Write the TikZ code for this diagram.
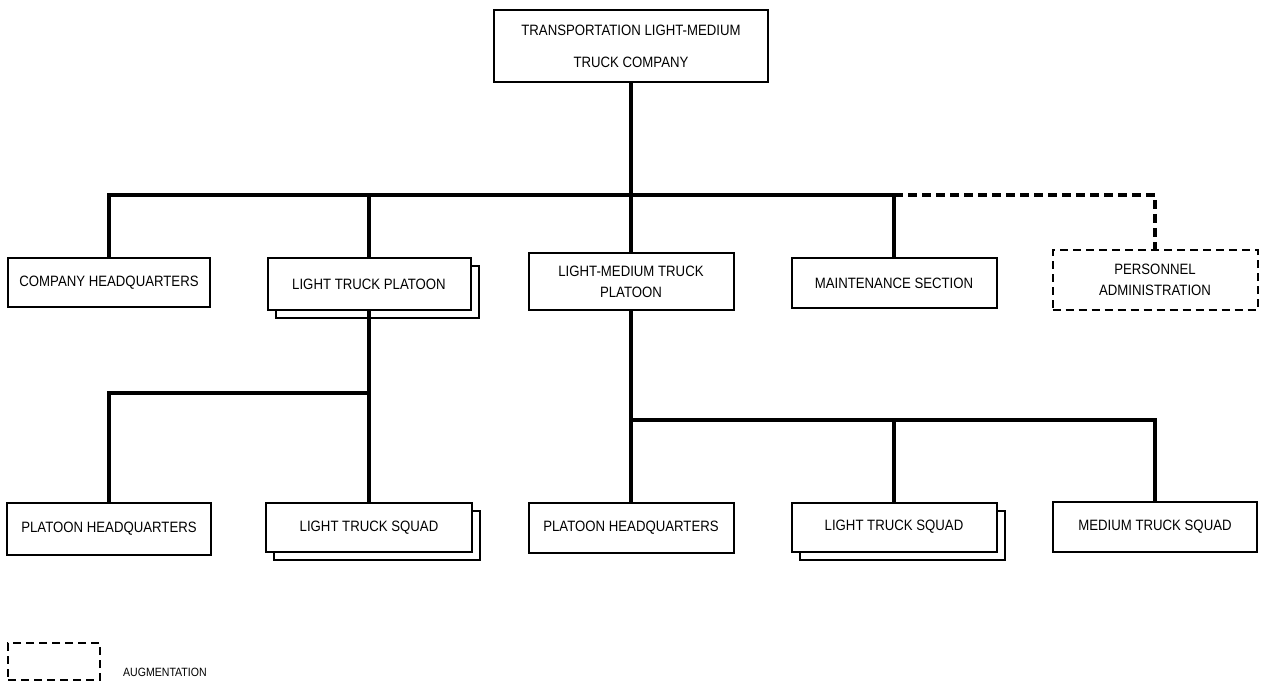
\documentclass[tikz,border=0pt]{standalone}
\usepackage{fontspec}
\setmainfont{Liberation Sans}[FakeStretch=0.88]
\usetikzlibrary{shadows}
\begin{document}
\begin{tikzpicture}[x=1pt,y=-1pt,
  box/.style={draw,line width=2pt,fill=white,inner sep=0pt,align=center,font=\fontsize{15}{21}\selectfont},
  multi/.style={box,copy shadow={shadow xshift=8pt,shadow yshift=-8pt,draw,line width=2pt,fill=white}},
  aug/.style={box,dashed,dash pattern=on 8pt off 5pt},
  conn/.style={line width=3.5pt},
  augconn/.style={line width=3.5pt,dash pattern=on 9pt off 5pt}]
\useasboundingbox (0,0) rectangle (1266,687);
% top
\node[box,minimum width=274pt,minimum height=72pt,font=\fontsize{15}{32}\selectfont] (top) at (631,46) {TRANSPORTATION LIGHT-MEDIUM\\TRUCK COMPANY};
% second level
\node[box,minimum width=202pt,minimum height=49pt] (chq) at (109,282.5) {COMPANY HEADQUARTERS};
\node[multi,minimum width=203pt,minimum height=52pt] (ltp) at (369,284) {LIGHT TRUCK PLATOON};
\node[box,minimum width=205pt,minimum height=57pt] (lmtp) at (631,281.5) {LIGHT-MEDIUM TRUCK\\PLATOON};
\node[box,minimum width=205pt,minimum height=50pt] (maint) at (894,283) {MAINTENANCE SECTION};
\node[aug,minimum width=205pt,minimum height=60pt] (pers) at (1155,280) {PERSONNEL\\ADMINISTRATION};
% third level
\node[box,minimum width=204pt,minimum height=52pt] (phqa) at (109,529) {PLATOON HEADQUARTERS};
\node[multi,minimum width=206pt,minimum height=49pt] (ltsa) at (369,527.5) {LIGHT TRUCK SQUAD};
\node[box,minimum width=205pt,minimum height=50pt] (phqb) at (631,528) {PLATOON HEADQUARTERS};
\node[multi,minimum width=205pt,minimum height=49pt] (ltsb) at (894,527) {LIGHT TRUCK SQUAD};
\node[box,minimum width=204pt,minimum height=50pt] (mts) at (1155,527) {MEDIUM TRUCK SQUAD};
% legend
\node[aug,minimum width=92pt,minimum height=37pt] (leg) at (54,661.5) {};
\node[font=\fontsize{12}{14}\selectfont,anchor=west,inner sep=0pt] (legtxt) at (123,672) {AUGMENTATION};
% buses
\coordinate (bus1) at (0,195);
\coordinate (bus2) at (0,393);
\coordinate (bus3) at (0,420);
% connectors level 1
\draw[conn] (top.south) -- (lmtp.north);
\draw[conn] (chq.north) -- (chq.north |- bus1) -- (maint.north |- bus1) -- (maint.north);
\draw[conn] (ltp.north |- bus1) -- (ltp.north);
\draw[augconn] (maint.north |- bus1) -- (pers.north |- bus1) -- (pers.north);
% light truck platoon
\draw[conn] (ltp.south) -- (ltp.south |- bus2);
\draw[conn] (phqa.north) -- (phqa.north |- bus2) -- (ltsa.north |- bus2) -- (ltsa.north);
% light-medium truck platoon
\draw[conn] (lmtp.south) -- (phqb.north);
\draw[conn] (lmtp.south |- bus3) -- (mts.north |- bus3) -- (mts.north);
\draw[conn] (ltsb.north |- bus3) -- (ltsb.north);
\end{tikzpicture}
\end{document}
